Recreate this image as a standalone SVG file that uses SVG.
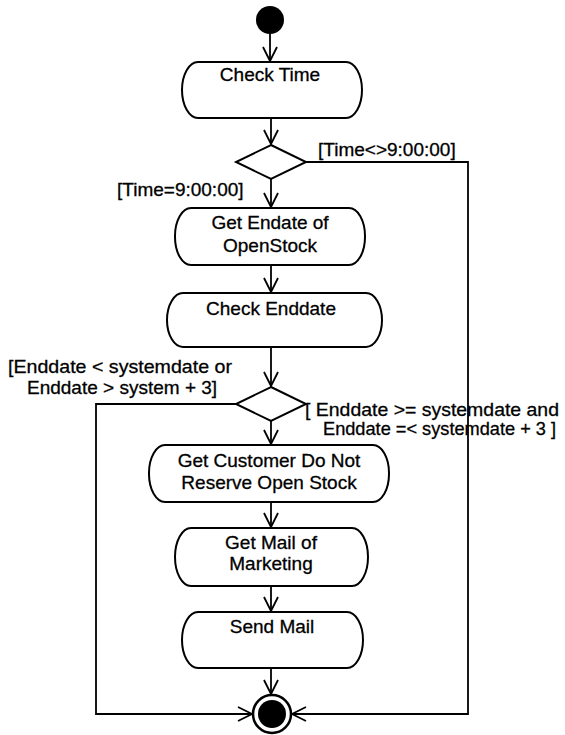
<svg xmlns="http://www.w3.org/2000/svg" width="565" height="735" viewBox="0 0 565 735">
<style>
  .act{fill:#fff;stroke:#000;stroke-width:2}
  .t{font-family:"Liberation Sans",Arial,sans-serif;font-size:19px;fill:#000;stroke:#000;stroke-width:0.3}
  .c{text-anchor:middle}
  .e{fill:none;stroke:#000;stroke-width:1.8}
</style>
<defs>
  <marker id="arr" viewBox="0 0 16 16" refX="15" refY="8" markerWidth="16" markerHeight="16" markerUnits="userSpaceOnUse" orient="auto">
    <path d="M1,1 L15,8 L1,15" fill="none" stroke="#000" stroke-width="1.8"/>
  </marker>
</defs>
<rect width="565" height="735" fill="#fff"/>

<g id="connectors">
  <line class="e" x1="270" y1="34" x2="270" y2="61" marker-end="url(#arr)"/>
  <line class="e" x1="271" y1="118" x2="271" y2="144" marker-end="url(#arr)"/>
  <line class="e" x1="271" y1="179" x2="271" y2="207" marker-end="url(#arr)"/>
  <polyline class="e" points="306,162 468,162 468,714 292,714" marker-end="url(#arr)"/>
  <line class="e" x1="271" y1="265" x2="271" y2="292" marker-end="url(#arr)"/>
  <line class="e" x1="271" y1="347" x2="271" y2="386" marker-end="url(#arr)"/>
  <polyline class="e" points="236,404 96,404 96,714 252,714" marker-end="url(#arr)"/>
  <line class="e" x1="271" y1="421" x2="271" y2="444" marker-end="url(#arr)"/>
  <line class="e" x1="271" y1="502" x2="271" y2="527" marker-end="url(#arr)"/>
  <line class="e" x1="271" y1="586" x2="271" y2="611" marker-end="url(#arr)"/>
  <line class="e" x1="271" y1="668" x2="271" y2="694" marker-end="url(#arr)"/>
</g>

<g id="guards">
  <text class="t" x="318" y="156">[Time&lt;&gt;9:00:00]</text>
  <text class="t" x="117" y="196">[Time=9:00:00]</text>
  <text class="t" x="8" y="373" textLength="224" lengthAdjust="spacingAndGlyphs">[Enddate &lt; systemdate or</text>
  <text class="t" x="27" y="394">Enddate &gt; system + 3]</text>
  <text class="t" x="305" y="416" textLength="254" lengthAdjust="spacingAndGlyphs">[ Enddate &gt;= systemdate and</text>
  <text class="t" x="323" y="435" style="font-size:18.2px">Enddate =&lt; systemdate + 3 ]</text>
</g>

<g id="start">
  <circle cx="270" cy="20" r="14" fill="#000"/>
</g>

<g id="checkTime">
  <rect class="act" x="182" y="62" width="180" height="56" rx="16" ry="28"/>
  <text class="t c" x="270" y="81">Check Time</text>
</g>

<g id="decision1">
  <polygon class="act" points="271,145 306,162 271,179 236,162"/>
</g>

<g id="getEndate">
  <rect class="act" x="175" y="208" width="190" height="57" rx="16" ry="28"/>
  <text class="t c" x="270" y="229">Get Endate of</text>
  <text class="t c" x="270" y="252">OpenStock</text>
</g>

<g id="checkEnddate">
  <rect class="act" x="167" y="293" width="215" height="54" rx="16" ry="27"/>
  <text class="t c" x="271" y="315">Check Enddate</text>
</g>

<g id="decision2">
  <polygon class="act" points="271,387 306,404 271,421 236,404"/>
</g>

<g id="getCustomer">
  <rect class="act" x="149" y="445" width="240" height="57" rx="16" ry="28"/>
  <text class="t c" x="269" y="467">Get Customer Do Not</text>
  <text class="t c" x="269" y="489">Reserve Open Stock</text>
</g>

<g id="getMail">
  <rect class="act" x="175" y="528" width="193" height="58" rx="16" ry="29"/>
  <text class="t c" x="271" y="549">Get Mail of</text>
  <text class="t c" x="271" y="570">Marketing</text>
</g>

<g id="sendMail">
  <rect class="act" x="182" y="612" width="181" height="56" rx="16" ry="28"/>
  <text class="t c" x="272" y="633">Send Mail</text>
</g>

<g id="end">
  <circle cx="272" cy="714" r="19" fill="#fff" stroke="#000" stroke-width="2.5"/>
  <circle cx="272" cy="714" r="14" fill="#000"/>
</g>
</svg>
